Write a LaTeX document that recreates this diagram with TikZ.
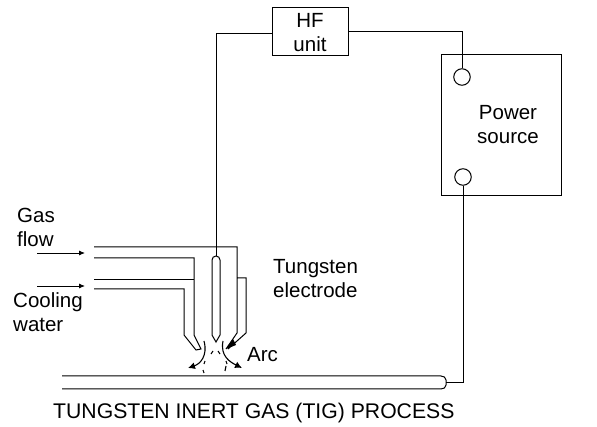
\documentclass[tikz,border=0pt]{standalone}
\usepackage{fontspec}
\setmainfont{Liberation Sans}
\usetikzlibrary{arrows.meta,positioning}
\begin{document}
\begin{tikzpicture}[
  x=1pt, y=-1pt,
  unitbox/.style={draw, line width=1pt, minimum width=76pt, minimum height=48pt, align=center, inner sep=0pt, font=\fontsize{20.5}{24}\selectfont},
  sourcebox/.style={draw, line width=1pt, minimum width=120pt, minimum height=141pt},
  terminal/.style={draw, circle, fill=white, line width=1pt, minimum size=16.5pt, inner sep=0pt},
  label/.style={align=left, inner sep=0pt, font=\fontsize{20.5}{24}\selectfont},
  wire/.style={line width=1pt},
  flow/.style={-{Latex[length=6pt,width=5pt]}, line width=0.9pt},
  spark/.style={-{Latex[length=7pt,width=7pt]}, line width=1.1pt},
  sparkdash/.style={line width=1.1pt}
]
\useasboundingbox (0,0) rectangle (597,427);
\node[unitbox] (hf) at (310,32) {};
\node[label, align=center] (hftext) at (310,33) {HF\\unit};
\node[sourcebox] (source) at (501,125.5) {};
\node[label, align=center] (sourcetext) at (508,125) {Power\\source};
\node[terminal] (upper) at (462,77) {};
\node[terminal] (lower) at (463,177) {};
% plate
\coordinate (plate) at (446,383);
\draw[wire] (62,376) -- (441,376) to[out=0,in=90] (446,380) -- (446,385) to[out=-90,in=0] (441,389) -- (62,389);
% electrode
\coordinate (tip) at (216,256);
\draw[wire] (212,335) -- (212,260) arc[start angle=180, end angle=0, radius=4pt] -- (220,335) -- (216,342) -- cycle;
% nozzle
\draw[wire] (94,247) -- (237,247) -- (237,333) -- (226,349) (237,278) -- (246,278) -- (246,333) -- (228,349);
\fill (226,349) -- (233,339) -- (236,345) -- cycle;
\draw[wire] (94,258) -- (194,258) -- (194,335) -- (201,349) -- (196,350) -- (184,335) -- (184,289) -- (94,289);
\draw[wire] (94,280) -- (194,280);
% connections
\coordinate (hfin) at (272,34);
\draw[wire] (hfin) -| (tip);
\draw[wire] (hf.east) -| (upper.north);
\draw[wire] (lower.south) |- (plate);
% inlet arrows
\coordinate (gasin) at (37,253);
\coordinate (gasout) at (85,253);
\coordinate (waterin) at (37,286);
\coordinate (waterout) at (85,286);
\draw[flow] (gasin) -- (gasout);
\draw[flow] (waterin) -- (waterout);
% arc
\draw[spark] (204,341) .. controls (208,356) and (200,364) .. (188,368);
\draw[spark] (223,341) .. controls (220,356) and (230,362) .. (242,368);
\draw[sparkdash] (211,354) -- (213,351);
\draw[sparkdash] (218,351) -- (220,354);
\draw[sparkdash] (205,361) -- (204,364);
\draw[sparkdash] (203,370) -- (204,373);
\draw[sparkdash] (226,361) -- (227,364);
\draw[sparkdash] (226,366) -- (225,371);
% labels
\node[label, anchor=west] (gas) at (17,227) {Gas\\flow};
\node[label, anchor=west] (water) at (13,312) {Cooling\\water};
\node[label, anchor=west] (tungsten) at (273,279) {Tungsten\\electrode};
\node[label, anchor=base west] (arc) at (247,362) {Arc};
\node[label, anchor=base west, font=\fontsize{21.2}{24}\selectfont] (title) at (53,418) {TUNGSTEN INERT GAS (TIG) PROCESS};
\end{tikzpicture}
\end{document}
